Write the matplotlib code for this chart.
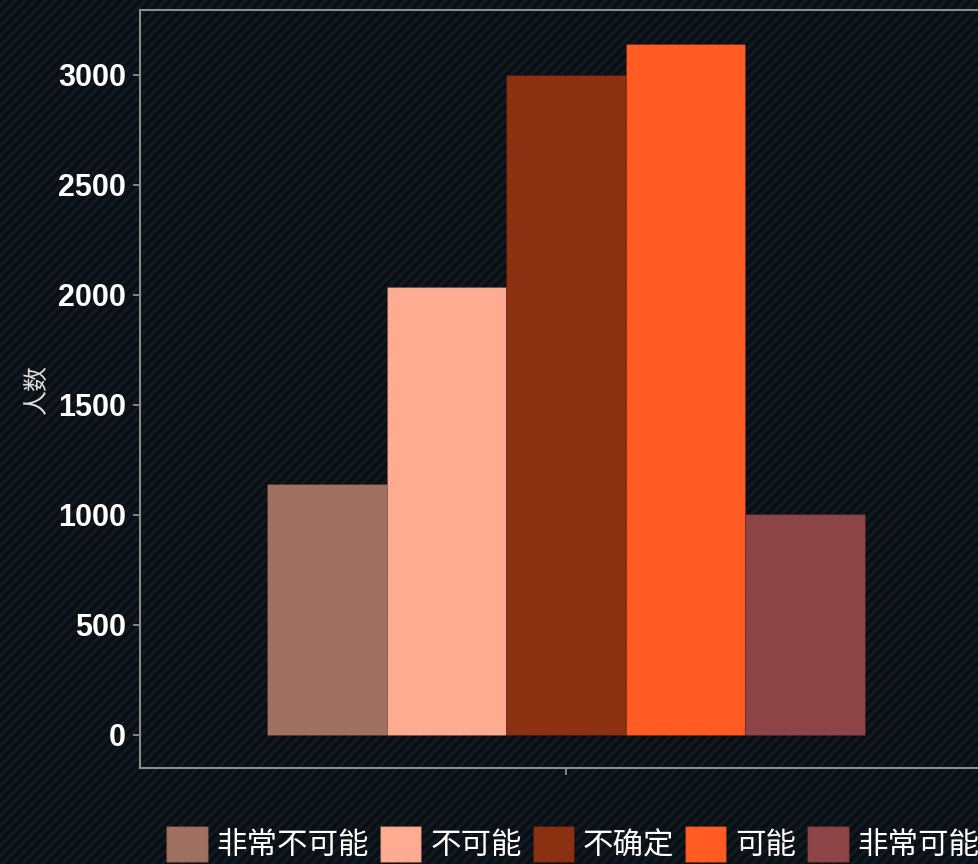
import numpy as np
import matplotlib
matplotlib.use("Agg")
import matplotlib.pyplot as plt
from matplotlib.patches import Patch

# data
categories = ["非常不可能", "不可能", "不确定", "可能", "非常可能"]
counts = [1140, 2035, 3000, 3140, 1005]
colors = ["#a07060", "#ffab91", "#8b3011", "#ff5b22", "#8d4446"]
yticks = [0, 500, 1000, 1500, 2000, 2500, 3000]

W, H = 979, 864
fig = plt.figure(figsize=(W / 100, H / 100), dpi=100)
fig.patch.set_facecolor("#0a0c0f")

# diagonal stripe background
rows, cols = np.mgrid[0:H, 0:W]
phase = ((cols + rows) % 10) / 10.0
mask = np.clip(np.abs(phase - 0.5) * 4 - 0.5, 0, 1)[..., None]
bg = np.array([10, 12, 15]) / 255.0
st = np.array([16, 27, 35]) / 255.0
img = bg * mask + st * (1 - mask)
fig.figimage(img, xo=0, yo=0, origin="upper", zorder=-10)

ax = fig.add_axes([140 / W, 96 / H, 852 / W, 758 / H])
ax.set_facecolor("none")

bw = 0.1685
x = 1 + (np.arange(len(counts)) - 2) * bw
for xi, c, col in zip(x, counts, colors):
    ax.bar(xi, c, width=bw, color=col, edgecolor=(0, 0, 0, 0.12), linewidth=0.8)

ax.set_xlim(0.4, 1.6)
ax.set_ylim(-150, 3295)
ax.set_xticks([1])
ax.set_xticklabels([""])
ax.set_yticks(yticks)
ax.set_yticklabels([str(v) for v in yticks], fontsize=22, fontweight="bold",
                   color="white", family=["Liberation Sans", "DejaVu Sans"])
ax.tick_params(colors="#9a9a9a", length=5, width=1.2, pad=5)
ax.tick_params(axis="y", labelcolor="white")

for s in ["left", "top", "bottom", "right"]:
    ax.spines[s].set_color("#8c8c8c")
    ax.spines[s].set_linewidth(1.5)

ax.set_ylabel("人数", fontsize=18, color="#dddddd",
              family=["Noto Sans CJK SC", "DejaVu Sans"], labelpad=6)

handles = [Patch(facecolor=c, edgecolor=(0, 0, 0, 0.12)) for c in colors]
leg = fig.legend(handles, categories, loc="center", ncol=5,
                 bbox_to_anchor=(573 / W, 1 - 844 / H), frameon=False,
                 prop={"family": ["Noto Sans CJK SC", "DejaVu Sans"], "size": 22},
                 handlelength=1.35, handleheight=1.45, handletextpad=0.3,
                 columnspacing=0.35, borderpad=0)
for t in leg.get_texts():
    t.set_color("white")

fig.savefig("out.png", dpi=100, facecolor=fig.get_facecolor())
